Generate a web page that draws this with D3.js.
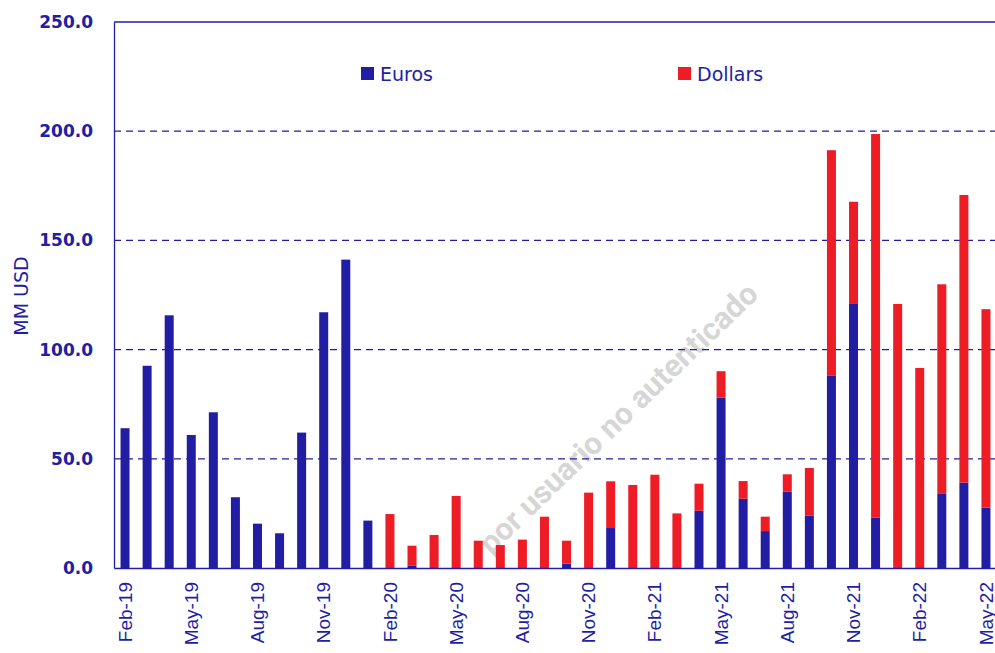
<!DOCTYPE html>
<html>
<head>
<meta charset="utf-8">
<script src="https://cdn.jsdelivr.net/npm/d3@7"></script>
<style>
  html, body { margin: 0; padding: 0; background: #fff; }
  svg { display: block; }
</style>
</head>
<body>
<svg id="chart" width="995" height="653"></svg>
<script>
const months = ["Feb-19","Mar-19","Apr-19","May-19","Jun-19","Jul-19","Aug-19","Sep-19","Oct-19","Nov-19","Dec-19","Jan-20",
  "Feb-20","Mar-20","Apr-20","May-20","Jun-20","Jul-20","Aug-20","Sep-20","Oct-20","Nov-20","Dec-20","Jan-21",
  "Feb-21","Mar-21","Apr-21","May-21","Jun-21","Jul-21","Aug-21","Sep-21","Oct-21","Nov-21","Dec-21","Jan-22",
  "Feb-22","Mar-22","Apr-22","May-22"];
const euros = [64.0,92.6,115.7,60.9,71.3,32.4,20.3,15.9,62.0,117.1,141.2,21.7,
  0,1.0,0,0,0,0,0,0,2.0,0,18.3,0,
  0,0,26.2,78.0,31.7,16.9,34.9,23.9,88.2,120.9,23.0,0,
  0,34.2,39.1,27.6];
const dollars = [0,0,0,0,0,0,0,0,0,0,0,0,
  24.7,9.2,15.1,33.0,12.5,10.5,13.0,23.5,10.5,34.5,21.4,38.0,
  42.7,25.0,12.4,12.1,8.1,6.6,8.0,21.9,103.1,46.8,175.7,120.9,
  91.6,95.7,131.7,90.9];
const seriesNames = ["Euros","Dollars"];
const yTicks = [0,50,100,150,200,250];
const xTickLabels = months.filter((m,i) => i % 3 === 0);

const BLUE = "#221ea3", RED = "#ee1c25";
const svg = d3.select("#chart");
const m = {left:114, right:997, top:22, bottom:568};

const rows = months.map((mo,i) => ({month:mo, Euros:euros[i], Dollars:dollars[i]}));
const stack = d3.stack().keys(seriesNames)(rows);

const x = d3.scaleBand().domain(months).range([m.left, m.right]).padding(0);
const y = d3.scaleLinear().domain([0,250]).range([m.bottom, m.top]);
const color = d3.scaleOrdinal().domain(seriesNames).range([BLUE, RED]);
const barW = 9;

// watermark
svg.append("text")
  .attr("transform", "translate(760,296) rotate(-44)")
  .attr("text-anchor","end")
  .attr("font-family","Roboto, 'Noto Sans', sans-serif")
  .attr("font-weight","bold")
  .attr("font-size", 31)
  .attr("fill","#d6d6d6")
  .text("por usuario no autenticado");

// gridlines
svg.append("g").selectAll("line").data(yTicks.filter(t => t > 0 && t < 250)).join("line")
  .attr("x1", m.left).attr("x2", 995)
  .attr("y1", d => y(d)).attr("y2", d => y(d))
  .attr("stroke", BLUE).attr("stroke-width", 1.2).attr("stroke-dasharray","7,5");
svg.append("line").attr("x1", m.left).attr("x2", 995).attr("y1", y(250)).attr("y2", y(250))
  .attr("stroke", BLUE).attr("stroke-width", 1.3);

// bars
svg.append("g").selectAll("g").data(stack).join("g")
  .attr("fill", d => color(d.key))
  .selectAll("rect").data(d => d).join("rect")
  .attr("x", d => x(d.data.month) + x.bandwidth()/2 - barW/2)
  .attr("width", barW)
  .attr("y", d => y(d[1]))
  .attr("height", d => Math.max(0, y(d[0]) - y(d[1])));

// axes
const yAxis = d3.axisLeft(y).tickValues(yTicks).tickSize(0).tickPadding(21).tickFormat(d3.format(".1f"));
const gy = svg.append("g").attr("transform", `translate(${m.left},0)`).call(yAxis);
gy.select(".domain").attr("stroke", BLUE).attr("stroke-width", 1.3);
gy.selectAll("text").attr("fill", BLUE).attr("font-family","'DejaVu Sans', sans-serif")
  .attr("font-weight", "bold").attr("font-size", 17);

const xAxis = d3.axisBottom(x).tickValues(xTickLabels).tickSize(0).tickPadding(0);
const gx = svg.append("g").attr("transform", `translate(0,${m.bottom})`).call(xAxis);
gx.select(".domain").attr("stroke", BLUE).attr("stroke-width", 1.3);
gx.selectAll("text")
  .attr("fill", BLUE).attr("font-family","'Liberation Sans', Arial, sans-serif")
  .attr("font-size", 19)
  .attr("text-anchor","end")
  .attr("transform","rotate(-90)")
  .attr("x", -14).attr("y", 0).attr("dy","0.35em");

// y title
svg.append("text")
  .attr("transform","translate(28,296) rotate(-90)")
  .attr("text-anchor","middle")
  .attr("font-family","'DejaVu Sans', sans-serif")
  .attr("font-size", 19)
  .attr("fill", BLUE)
  .text("MM USD");

// legend
const legendX = [361, 678];
const lg = svg.append("g").selectAll("g").data(seriesNames).join("g")
  .attr("transform", (d,i) => `translate(${legendX[i]},67)`);
lg.append("rect").attr("width", 13).attr("height", 13).attr("fill", d => color(d));
lg.append("text").attr("x", 19).attr("y", 7).attr("dy","0.36em")
  .attr("font-family","'DejaVu Sans', sans-serif")
  .attr("font-size", 19).attr("fill", BLUE).text(d => d);
</script>
</body>
</html>
